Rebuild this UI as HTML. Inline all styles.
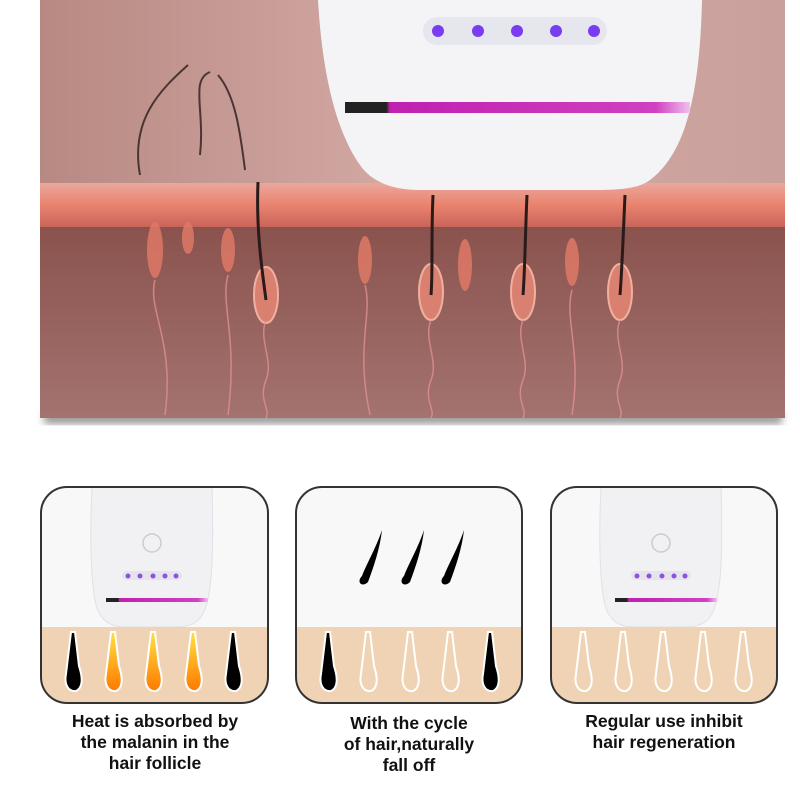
<!DOCTYPE html>
<html><head><meta charset="utf-8"><style>
body{margin:0;background:#fff;width:800px;height:800px;overflow:hidden;font-family:"Liberation Sans",sans-serif}
.cap{position:absolute;font-weight:bold;font-size:17.5px;color:#111;text-align:center;line-height:21px}
</style></head><body>
<svg width="800" height="800" style="position:absolute;left:0;top:0">
<defs>
<linearGradient id="bg" x1="0" y1="0" x2="1" y2="0">
<stop offset="0" stop-color="#b88983"/><stop offset="0.5" stop-color="#d4aaa5"/><stop offset="1" stop-color="#caa09c"/></linearGradient>
<linearGradient id="low" x1="0" y1="0" x2="0" y2="1">
<stop offset="0" stop-color="#8a524d"/><stop offset="1" stop-color="#a47370"/></linearGradient>
<linearGradient id="band" x1="0" y1="0" x2="0" y2="1">
<stop offset="0" stop-color="#eaa89c"/><stop offset="0.5" stop-color="#e9836f"/><stop offset="1" stop-color="#c9645a"/></linearGradient>
<linearGradient id="mag" x1="0" y1="0" x2="1" y2="0">
<stop offset="0" stop-color="#222"/><stop offset="0.12" stop-color="#222"/><stop offset="0.13" stop-color="#c020b0"/><stop offset="0.9" stop-color="#d040c0"/><stop offset="1" stop-color="#f0c0f0"/></linearGradient>
<linearGradient id="orh" x1="0" y1="0" x2="0" y2="1">
<stop offset="0" stop-color="#ffe040"/><stop offset="1" stop-color="#ff7a00"/></linearGradient>
<filter id="sh"><feGaussianBlur stdDeviation="4"/></filter>
<path id="hair" d="M-2,0 L2,0 L6,34 C10,46 10,56 3,59 C-5,60 -9,52 -7,42 Z"/>
</defs>
<rect x="44" y="412" width="738" height="12" fill="#999" filter="url(#sh)"/>
<rect x="40" y="0" width="745" height="418" fill="url(#bg)"/>
<rect x="40" y="225" width="745" height="193" fill="url(#low)"/>
<rect x="40" y="183" width="745" height="44" fill="url(#band)"/>
<g fill="#e47a68" opacity="0.8">
<ellipse cx="155" cy="250" rx="8" ry="28"/><ellipse cx="188" cy="238" rx="6" ry="16"/><ellipse cx="228" cy="250" rx="7" ry="22"/>
<ellipse cx="365" cy="260" rx="7" ry="24"/><ellipse cx="465" cy="265" rx="7" ry="26"/><ellipse cx="572" cy="262" rx="7" ry="24"/></g>
<g fill="#d98070" stroke="#f0b0a0" stroke-width="2">
<ellipse cx="266" cy="295" rx="12" ry="28"/><ellipse cx="431" cy="292" rx="12" ry="28"/><ellipse cx="523" cy="292" rx="12" ry="28"/><ellipse cx="620" cy="292" rx="12" ry="28"/></g>
<g stroke="#e09090" fill="none" stroke-width="1.5" opacity="0.8">
<path d="M266,320 c-8,20 8,40 0,60 c-8,20 5,30 0,38"/><path d="M431,320 c-8,20 8,40 0,60 c-8,20 5,30 0,38"/><path d="M523,320 c-8,20 8,40 0,60 c-8,20 5,30 0,38"/><path d="M620,320 c-8,20 8,40 0,60 c-8,20 5,30 0,38"/>
<path d="M155,280 c-8,30 20,60 10,135"/><path d="M228,275 c-8,30 10,60 0,140"/><path d="M365,285 c8,30 -10,60 5,130"/><path d="M572,290 c-8,30 10,60 0,125"/></g>
<g stroke="#2a1a1a" stroke-width="3" fill="none">
<path d="M258,182 C256,230 262,270 266,300"/><path d="M433,195 C431,240 433,270 431,295"/><path d="M527,195 C525,240 525,270 523,295"/><path d="M625,195 C623,240 622,270 620,295"/></g>
<g stroke="#4a3535" stroke-width="2" fill="none">
<path d="M140,175 C130,120 160,90 188,65"/><path d="M200,155 C205,110 190,80 210,72"/><path d="M245,170 C240,130 235,95 218,75"/></g>
<path d="M318,0 L702,0 C700,80 690,150 650,180 C640,188 620,190 600,190 L420,190 C390,190 370,180 360,165 C335,130 322,70 318,0 Z" fill="#f4f4f7"/>
<rect x="423" y="17" width="184" height="28" rx="14" fill="#e6e6ee"/>
<g fill="#7a3cf0"><circle cx="438" cy="31" r="6"/><circle cx="478" cy="31" r="6"/><circle cx="517" cy="31" r="6"/><circle cx="556" cy="31" r="6"/><circle cx="594" cy="31" r="6"/></g>
<rect x="345" y="102" width="345" height="11" fill="url(#mag)"/>
<rect x="41" y="487" width="227" height="216" rx="26" fill="#f8f8f8"/>
<rect x="296" y="487" width="226" height="216" rx="26" fill="#f8f8f8"/>
<rect x="551" y="487" width="226" height="216" rx="26" fill="#f8f8f8"/>
<clipPath id="c1"><rect x="41" y="487" width="227" height="216" rx="26"/></clipPath>
<clipPath id="c2"><rect x="296" y="487" width="226" height="216" rx="26"/></clipPath>
<clipPath id="c3"><rect x="551" y="487" width="226" height="216" rx="26"/></clipPath>
<g clip-path="url(#c1)">
<path d="M92,487 L212,487 C214,560 212,605 200,618 C195,625 185,627 175,627 L125,627 C110,627 100,620 96,605 C90,580 90,530 92,487Z" fill="#f1f1f4" stroke="#e0e0e6"/>
<circle cx="152" cy="543" r="9" fill="none" stroke="#ccc" stroke-width="1.5"/>
<rect x="122" y="571" width="60" height="9" rx="4.5" fill="#e4e4ec"/>
<g fill="#9050e0"><circle cx="128" cy="576" r="2.5"/><circle cx="140" cy="576" r="2.5"/><circle cx="153" cy="576" r="2.5"/><circle cx="165" cy="576" r="2.5"/><circle cx="176" cy="576" r="2.5"/></g>
<rect x="106" y="598" width="102" height="4" fill="url(#mag)"/>
<rect x="41" y="627" width="227" height="80" fill="#f0d3b4"/>
<g stroke="#fff" stroke-width="2"><use href="#hair" x="73" y="632" fill="#000"/><use href="#hair" x="113" y="632" fill="url(#orh)"/><use href="#hair" x="153" y="632" fill="url(#orh)"/><use href="#hair" x="193" y="632" fill="url(#orh)"/><use href="#hair" x="233" y="632" fill="#000"/></g>
</g>
<g clip-path="url(#c2)">
<rect x="296" y="627" width="226" height="80" fill="#f0d3b4"/>
<g stroke="#fff" stroke-width="2"><use href="#hair" x="328" y="632" fill="#000"/><use href="#hair" x="368" y="632" fill="none"/><use href="#hair" x="410" y="632" fill="none"/><use href="#hair" x="450" y="632" fill="none"/><use href="#hair" x="490" y="632" fill="#000"/></g>
<g fill="#000"><path d="M382,530 C376,548 366,565 362,576 C356,582 362,588 368,582 C374,566 380,548 382,530Z"/><path d="M424,530 C418,548 408,565 404,576 C398,582 404,588 410,582 C416,566 422,548 424,530Z"/><path d="M464,530 C458,548 448,565 444,576 C438,582 444,588 450,582 C456,566 462,548 464,530Z"/></g>
</g>
<g clip-path="url(#c3)">
<path d="M601,487 L721,487 C723,560 721,605 709,618 C704,625 694,627 684,627 L634,627 C619,627 609,620 605,605 C599,580 599,530 601,487Z" fill="#f1f1f4" stroke="#e0e0e6"/>
<circle cx="661" cy="543" r="9" fill="none" stroke="#ccc" stroke-width="1.5"/>
<rect x="631" y="571" width="60" height="9" rx="4.5" fill="#e4e4ec"/>
<g fill="#9050e0"><circle cx="637" cy="576" r="2.5"/><circle cx="649" cy="576" r="2.5"/><circle cx="662" cy="576" r="2.5"/><circle cx="674" cy="576" r="2.5"/><circle cx="685" cy="576" r="2.5"/></g>
<rect x="615" y="598" width="102" height="4" fill="url(#mag)"/>
<rect x="551" y="627" width="226" height="80" fill="#f0d3b4"/>
<g stroke="#fff" stroke-width="2" fill="none"><use href="#hair" x="583" y="632"/><use href="#hair" x="623" y="632"/><use href="#hair" x="663" y="632"/><use href="#hair" x="703" y="632"/><use href="#hair" x="743" y="632"/></g>
</g>
<g fill="none" stroke="#333" stroke-width="2">
<rect x="41" y="487" width="227" height="216" rx="26"/><rect x="296" y="487" width="226" height="216" rx="26"/><rect x="551" y="487" width="226" height="216" rx="26"/></g>
</svg>
<div class="cap" style="left:40px;top:711px;width:230px">Heat is absorbed by<br>the malanin in the<br>hair follicle</div>
<div class="cap" style="left:296px;top:713px;width:226px">With the cycle<br>of hair,naturally<br>fall off</div>
<div class="cap" style="left:551px;top:711px;width:226px">Regular use inhibit<br>hair regeneration</div>
</body></html>
